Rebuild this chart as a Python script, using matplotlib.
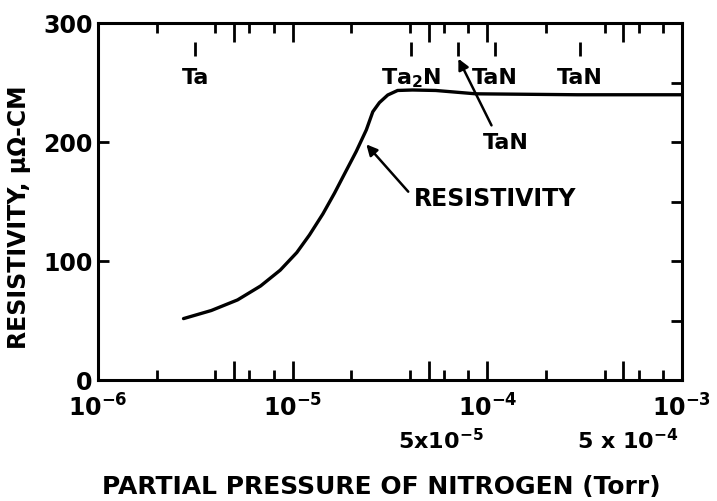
import matplotlib
matplotlib.use("Agg")
import matplotlib.pyplot as plt
from matplotlib.ticker import FixedLocator, FixedFormatter, NullFormatter

# ---- data ----
pressure = [2.75e-6, 3.82e-6, 5.21e-6, 6.84e-6, 8.63e-6, 1.05e-5, 1.22e-5, 1.43e-5,
            1.64e-5, 1.81e-5, 2.12e-5, 2.39e-5, 2.58e-5, 2.79e-5, 3.08e-5, 3.46e-5,
            4.13e-5, 5.43e-5, 8.7e-5, 2.9e-4, 1.0e-3]
resistivity = [51.6, 58.4, 67.3, 79.0, 92.3, 107.1, 121.9, 139.6,
               157.0, 170.5, 192.0, 210.2, 225.4, 233.1, 239.5, 243.3,
               243.7, 243.3, 240.5, 239.7, 239.7]

x_major = [1e-6, 5e-6, 1e-5, 5e-5, 1e-4, 5e-4, 1e-3]
x_major_labels = [r"$10^{-6}$", "", r"$10^{-5}$", "", r"$10^{-4}$", "", r"$10^{-3}$"]
x_minor = [2e-6, 4e-6, 6e-6, 8e-6, 2e-5, 4e-5, 6e-5, 8e-5, 2e-4, 4e-4, 6e-4, 8e-4]
x_second_row = [5e-5, 5e-4]
x_second_labels = [r"5x$10^{-5}$", r"5 x $10^{-4}$"]

y_major = [0, 100, 200, 300]
y_major_labels = ["0", "100", "200", "300"]
y_right_ticks = [50, 100, 150, 200, 250]

phase_pos = [3.16e-6, 4.05e-5, 1.09e-4, 2.98e-4]
phase_labels = ["Ta", r"Ta$_2$N", "TaN", "TaN"]
tan_marker = 7.1e-5

plt.rcParams["font.family"] = ["DejaVu Sans"]
plt.rcParams["font.weight"] = "bold"
plt.rcParams["mathtext.default"] = "bf"

fig = plt.figure(figsize=(7.17, 5.02), dpi=100)
ax = fig.add_axes([98 / 717, 1 - 381 / 502, 584 / 717, 357 / 502])
ax.set_xscale("log")
ax.set_xlim(1e-6, 1e-3)
ax.set_ylim(0, 300)

ax.plot(pressure, resistivity, color="black", lw=2.4, solid_capstyle="round",
        solid_joinstyle="round")

for s in ax.spines.values():
    s.set_linewidth(2.2)

ax.xaxis.set_major_locator(FixedLocator(x_major))
ax.xaxis.set_major_formatter(FixedFormatter(x_major_labels))
ax.xaxis.set_minor_locator(FixedLocator(x_minor))
ax.xaxis.set_minor_formatter(NullFormatter())
ax.tick_params(axis="x", which="major", direction="in", top=True, bottom=True,
               length=14, width=2, labelsize=17, pad=10)
ax.tick_params(axis="x", which="minor", direction="in", top=True, bottom=True,
               length=7, width=2)

ax.yaxis.remove_overlapping_locs = False
ax.yaxis.set_major_locator(FixedLocator(y_major))
ax.yaxis.set_major_formatter(FixedFormatter(y_major_labels))
ax.yaxis.set_minor_locator(FixedLocator(y_right_ticks))
ax.yaxis.set_minor_formatter(NullFormatter())
ax.tick_params(axis="y", which="major", direction="in", left=True, right=False,
               length=8, width=2, labelsize=17, pad=4)
ax.tick_params(axis="y", which="minor", direction="in", left=False, right=True,
               length=8, width=2)

# second row of x labels
offsets = [12, 4]
for xv, lab, off in zip(x_second_row, x_second_labels, offsets):
    ax.annotate(lab, xy=(xv, 0), xycoords=("data", "axes fraction"),
                xytext=(off, -60), textcoords="offset pixels",
                ha="center", va="center", fontsize=16, fontweight="bold")

# phase markers and labels
xt = ax.get_xaxis_transform()
for xv, lab in zip(phase_pos, phase_labels):
    ax.vlines(xv, 0.908, 0.947, transform=xt, color="black", lw=2)
    ax.text(xv, 0.849, lab, transform=xt, ha="center", va="center",
            fontsize=16, fontweight="bold")
ax.vlines(tan_marker, 0.908, 0.947, transform=xt, color="black", lw=2)
ax.annotate("TaN", xy=(tan_marker, 0.90), xycoords=xt,
            xytext=(1.25e-4, 0.667), textcoords=xt,
            ha="center", va="center", fontsize=16, fontweight="bold",
            arrowprops=dict(arrowstyle="-|>", color="black", lw=1.8,
                            mutation_scale=16, shrinkA=3, shrinkB=0,
                            relpos=(0.25, 1.0)))

ax.annotate("RESISTIVITY", xy=(2.39e-5, 198), xycoords="data",
            xytext=(4.19e-5, 0.51), textcoords=xt,
            ha="left", va="center", fontsize=17, fontweight="bold",
            arrowprops=dict(arrowstyle="-|>", color="black", lw=1.8,
                            mutation_scale=16, shrinkA=3, shrinkB=0,
                            relpos=(0.0, 0.5)))

fig.text(19 / 717, 1 - 217 / 502, "RESISTIVITY, μΩ-CM", rotation=90,
         ha="center", va="center", fontsize=17, fontweight="bold")
fig.text(381 / 717, 1 - 487 / 502, "PARTIAL PRESSURE OF NITROGEN (Torr)",
         ha="center", va="center", fontsize=18, fontweight="bold")

fig.savefig("out.png", dpi=100)
